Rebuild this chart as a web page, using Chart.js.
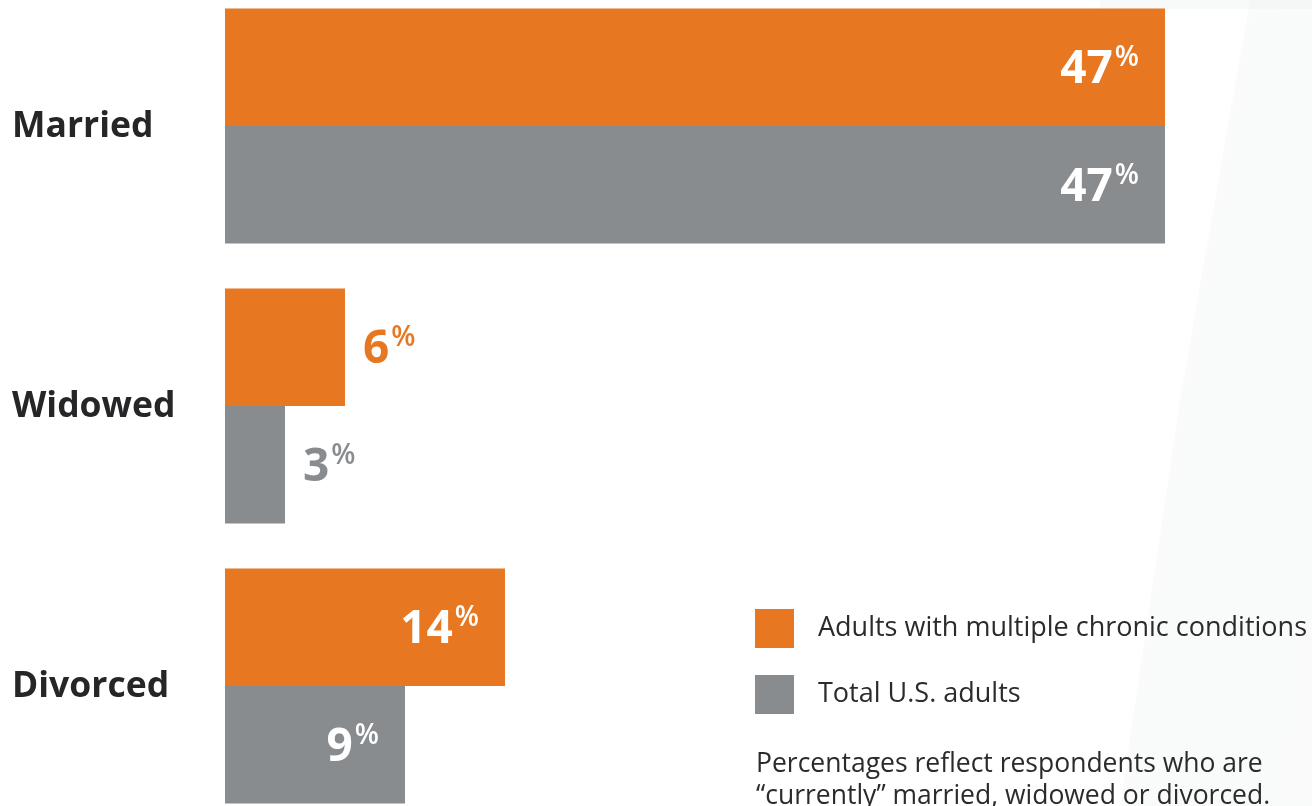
<!DOCTYPE html>
<html>
<head>
<meta charset="utf-8">
<script src="https://cdn.jsdelivr.net/npm/chart.js@4/dist/chart.umd.min.js"></script>
<style>
  html, body { margin: 0; padding: 0; background: #fff; }
  #wrap { position: relative; width: 1312px; height: 806px; overflow: hidden; background: #fff; }
  #shade1 { position: absolute; inset: 0;
    background: linear-gradient(100deg, rgba(255,255,255,0) 0%, rgba(238,240,240,0.35) 100%);
    clip-path: polygon(1250px 0, 1312px 0, 1312px 806px, 1120px 806px, 1180px 400px); }
  #shade2 { position: absolute; left: 1100px; top: 0; width: 212px; height: 9px; background: rgba(240,242,242,0.45); }
  #chartBox { position: absolute; left: 0; top: -14px; width: 1312px; height: 840px; }
  #legend { position: absolute; left: 755px; top: 0; font-family: "Open Sans", sans-serif; font-size: 27px; color: #2b2b2e; }
  .sw { position: absolute; left: 0; width: 39px; height: 39px; }
  .lt { position: absolute; left: 63px; line-height: 39px; white-space: nowrap; }
  #note { position: absolute; left: 756px; top: 746px; font-family: "Open Sans", sans-serif; font-size: 26.5px; line-height: 32px; color: #2b2b2e; white-space: nowrap; }
</style>
</head>
<body>
<div id="wrap">
  <div id="shade1"></div>
  <div id="shade2"></div>
  <div id="chartBox"><canvas id="chart"></canvas></div>
  <div id="legend"></div>
  <div id="note">Percentages reflect respondents who are<br>“currently” married, widowed or divorced.</div>
</div>
<script>
// Marital status, share of respondents (%)
const categories = ['Married', 'Widowed', 'Divorced'];
const chronicValues = [47, 6, 14];
const totalValues = [47, 3, 9];
const seriesNames = ['Adults with multiple chronic conditions', 'Total U.S. adults'];
const seriesColors = ['#E87722', '#898C8F'];
const axisMax = 50;

// Category names at the left edge, centred on each bar pair
const categoryLabels = {
  id: 'categoryLabels',
  afterDraw(chart) {
    const ctx = chart.ctx;
    const yScale = chart.scales.y;
    ctx.save();
    ctx.font = 'bold 35.5px "Open Sans"';
    ctx.fillStyle = '#262628';
    ctx.textAlign = 'left';
    ctx.textBaseline = 'middle';
    chart.data.labels.forEach((lab, i) => {
      ctx.fillText(lab, 12, yScale.getPixelForValue(i) + 1);
    });
    ctx.restore();
  }
};

// Value labels: bold number with a small raised "%" sign.
// Long bars carry a white label inside their end, short bars a coloured label outside.
const valueLabels = {
  id: 'valueLabels',
  afterDatasetsDraw(chart) {
    const ctx = chart.ctx;
    chart.data.datasets.forEach((ds, di) => {
      const meta = chart.getDatasetMeta(di);
      meta.data.forEach((bar, i) => {
        const num = String(ds.data[i]);
        ctx.save();
        ctx.font = 'bold 46px "Open Sans"';
        const wNum = ctx.measureText(num).width;
        ctx.font = '600 28px "Open Sans"';
        const wPct = ctx.measureText('%').width;
        const gap = 2;
        const inside = (bar.x - bar.base) >= 150;
        let x0;
        if (inside) {
          x0 = bar.x - 26 - (wNum + gap + wPct);
          ctx.fillStyle = '#ffffff';
        } else {
          x0 = bar.x + 18;
          ctx.fillStyle = ds.backgroundColor;
        }
        const base = bar.y + 16;
        ctx.textAlign = 'left';
        ctx.textBaseline = 'alphabetic';
        ctx.font = 'bold 46px "Open Sans"';
        ctx.fillText(num, x0, base);
        ctx.font = '600 28px "Open Sans"';
        ctx.fillText('%', x0 + wNum + gap, base - 17);
        ctx.restore();
      });
    });
  }
};

const chart = new Chart(document.getElementById('chart'), {
  type: 'bar',
  data: {
    labels: categories,
    datasets: [
      { label: seriesNames[0], data: chronicValues, backgroundColor: seriesColors[0] },
      { label: seriesNames[1], data: totalValues, backgroundColor: seriesColors[1] }
    ]
  },
  options: {
    indexAxis: 'y',
    responsive: true,
    maintainAspectRatio: false,
    animation: false,
    events: [],
    layout: { padding: { left: 225, right: 87, top: 0, bottom: 0 } },
    datasets: { bar: { barPercentage: 1, categoryPercentage: 0.839, borderWidth: 0, inflateAmount: 0 } },
    plugins: { legend: { display: false }, tooltip: { enabled: false } },
    scales: {
      x: { display: false, min: 0, max: axisMax },
      y: { display: false }
    }
  },
  plugins: [valueLabels, categoryLabels]
});

// Legend built from the chart's datasets
const legend = document.getElementById('legend');
const legendTops = [609, 675];
chart.data.datasets.forEach((ds, i) => {
  const sw = document.createElement('div');
  sw.className = 'sw';
  sw.style.top = legendTops[i] + 'px';
  sw.style.background = ds.backgroundColor;
  const t = document.createElement('div');
  t.className = 'lt';
  t.style.top = (legendTops[i] - 3) + 'px';
  t.textContent = ds.label;
  legend.appendChild(sw);
  legend.appendChild(t);
});
</script>
</body>
</html>
